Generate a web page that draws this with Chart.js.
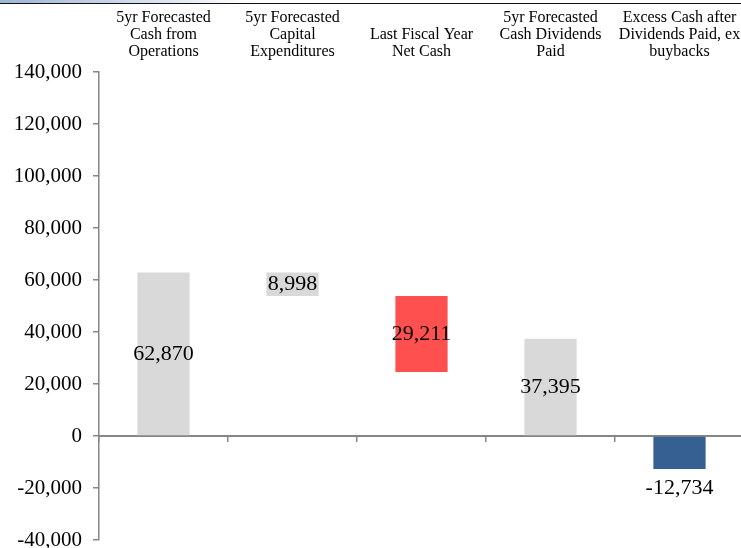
<!DOCTYPE html>
<html>
<head>
<meta charset="utf-8">
<script src="https://cdn.jsdelivr.net/npm/chart.js@4"></script>
<style>
    body { margin: 0; background: #fff; overflow: hidden; }
    #wrap { width: 741px; height: 548px; overflow: hidden; }
</style>
</head>
<body>
<div id="wrap"><canvas id="cash-chart" width="744" height="548"></canvas></div>
<script>
// Waterfall data
const categories = [
    ['5yr Forecasted', 'Cash from', 'Operations'],
    ['5yr Forecasted', 'Capital', 'Expenditures'],
    ['Last Fiscal Year', 'Net Cash'],
    ['5yr Forecasted', 'Cash Dividends', 'Paid'],
    ['Excess Cash after', 'Dividends Paid, ex', 'buybacks']
];
const barLow = [0, 53872, 24661, 0, -12734];
const barHigh = [62870, 62870, 53872, 37395, 0];
const shownValues = [62870, 8998, 29211, 37395, -12734];
const barColors = ['#d9d9d9', '#d9d9d9', '#ff5050', '#d9d9d9', '#376092'];
const yTicks = { min: -40000, max: 140000, step: 20000 };

const serif = "'Liberation Serif', 'Times New Roman', serif";
const axisGray = '#868686';

const fmt = v => v.toLocaleString('en-US');

// little blue strip + rule at the very top (header of the original sheet)
const headerStrip = {
    id: 'headerStrip',
    beforeDraw(chart) {
        const ctx = chart.ctx;
        ctx.save();
        const g = ctx.createLinearGradient(0, 0, 250, 0);
        g.addColorStop(0, '#9db4d4');
        g.addColorStop(1, '#ffffff');
        ctx.fillStyle = g;
        ctx.fillRect(0, 0, 250, 3);
        ctx.strokeStyle = '#111';
        ctx.lineWidth = 1.2;
        ctx.beginPath();
        ctx.moveTo(0, 3.5);
        ctx.lineTo(chart.width, 3.5);
        ctx.stroke();
        ctx.restore();
    }
};

const barLabels = {
    id: 'barLabels',
    afterDatasetsDraw(chart) {
        const ctx = chart.ctx;
        const meta = chart.getDatasetMeta(0);
        ctx.save();
        ctx.font = '22px ' + serif;
        ctx.fillStyle = '#000';
        ctx.textAlign = 'center';
        ctx.textBaseline = 'middle';
        meta.data.forEach((bar, i) => {
            const top = Math.min(bar.y, bar.base);
            const bottom = Math.max(bar.y, bar.base);
            let y = (top + bottom) / 2;
            if (shownValues[i] < 0) y = bottom + 19;
            ctx.fillText(fmt(shownValues[i]), bar.x, y);
        });
        ctx.restore();
    }
};

new Chart(document.getElementById('cash-chart'), {
    type: 'bar',
    data: {
        labels: categories,
        datasets: [{
            data: barLow.map((lo, i) => [lo, barHigh[i]]),
            backgroundColor: barColors,
            borderWidth: 0,
            categoryPercentage: 1,
            barPercentage: 0.405,
            xAxisID: 'x'
        }]
    },
    options: {
        responsive: false,
        animation: false,
        layout: { padding: { top: 0, bottom: 8, left: 0, right: 0 } },
        plugins: { legend: { display: false }, tooltip: { enabled: false } },
        scales: {
            x: {
                position: 'top',
                offset: true,
                grid: { display: false, drawTicks: false },
                border: { display: false },
                ticks: {
                    color: '#000',
                    font: { family: serif, size: 16, lineHeight: 1.05 },
                    padding: 12,
                    maxRotation: 0,
                    autoSkip: false
                },
                afterFit: s => { s.height = 72; s.paddingLeft = 0; s.paddingRight = 0; }
            },
            x2: {
                type: 'category',
                labels: categories,
                position: { y: 0 },
                offset: true,
                grid: { drawOnChartArea: false, offset: true, tickLength: 5, color: axisGray, lineWidth: 1.5 },
                border: { color: axisGray, width: 2 },
                ticks: { display: false },
                afterFit: s => { s.paddingLeft = 0; s.paddingRight = 0; }
            },
            y: {
                min: yTicks.min,
                max: yTicks.max,
                grid: { drawOnChartArea: false, tickLength: 6, color: axisGray, lineWidth: 1.5 },
                border: { color: axisGray, width: 1.5 },
                ticks: {
                    stepSize: yTicks.step,
                    color: '#000',
                    padding: 11,
                    font: { family: serif, size: 21 },
                    callback: v => fmt(v)
                },
                afterFit: s => { s.width = 99; s.paddingTop = 0; s.paddingBottom = 0; }
            }
        }
    },
    plugins: [headerStrip, barLabels]
});
</script>
</body>
</html>
